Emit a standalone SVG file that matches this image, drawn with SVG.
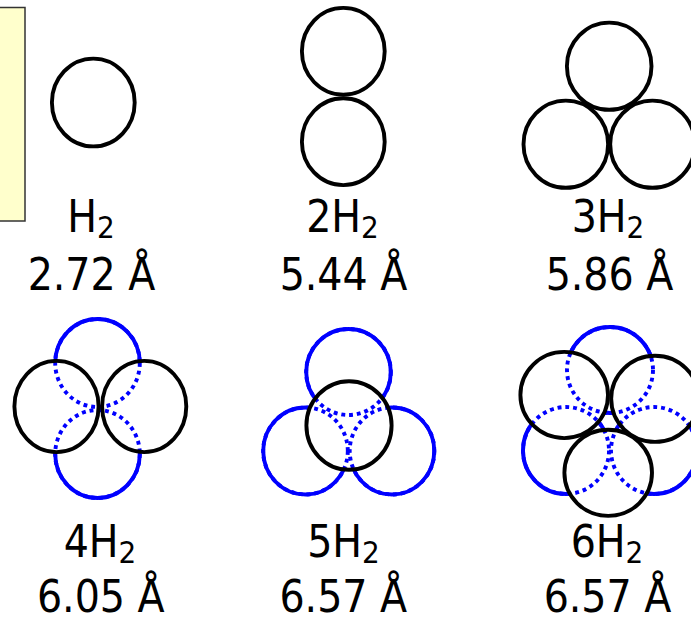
<svg xmlns="http://www.w3.org/2000/svg" width="691" height="622" viewBox="0 0 691 622">
<style>
.k{fill:none;stroke:#000;stroke-width:3.9}
.b{fill:none;stroke:#0000ff;stroke-width:3.9}
.d{fill:none;stroke:#0000ff;stroke-width:3.9;stroke-dasharray:3.9 3.9}
.box{fill:#ffffcc;stroke:#333;stroke-width:1.5}
text{font-family:'DejaVu Sans Condensed','DejaVu Sans',sans-serif;font-stretch:condensed;font-size:44px;fill:#000;text-anchor:middle}
.s{font-size:31px}
</style>
<defs>
<mask id="m4" maskUnits="userSpaceOnUse" x="0" y="300" width="240" height="220">
<rect x="0" y="300" width="240" height="220" fill="#fff"/>
<ellipse cx="56.5" cy="406.5" rx="42.1" ry="45.6" fill="#000"/>
<ellipse cx="144.2" cy="406.5" rx="42.1" ry="45.6" fill="#000"/>
</mask>
<mask id="m5" maskUnits="userSpaceOnUse" x="240" y="300" width="220" height="220">
<rect x="240" y="300" width="220" height="220" fill="#fff"/>
<ellipse cx="349" cy="425.5" rx="42.6" ry="44.3" fill="#000"/>
</mask>
<mask id="m6" maskUnits="userSpaceOnUse" x="500" y="300" width="200" height="230">
<rect x="500" y="300" width="200" height="230" fill="#fff"/>
<ellipse cx="564.2" cy="395" rx="43.8" ry="43.1" fill="#000"/>
<ellipse cx="655" cy="398.8" rx="43.8" ry="43.1" fill="#000"/>
<ellipse cx="608.2" cy="472.8" rx="43.8" ry="43.1" fill="#000"/>
</mask>
</defs>
<g id="legend">
<rect class="box" x="-5" y="7.5" width="30" height="213.5"/>
</g>
<g id="connectors"/>
<g id="h2">
<ellipse class="k" cx="93.3" cy="102.5" rx="41.4" ry="43.9"/>
<text x="91" y="232">H<tspan class="s" dy="6">2</tspan></text>
<text x="91.5" y="290">2.72 Å</text>
</g>
<g id="h2x2">
<ellipse class="k" cx="343.3" cy="51.3" rx="41.4" ry="43.4"/>
<ellipse class="k" cx="343.3" cy="141.7" rx="41.4" ry="43.4"/>
<text x="342.5" y="232">2H<tspan class="s" dy="6">2</tspan></text>
<text x="343.5" y="290">5.44 Å</text>
</g>
<g id="h2x3">
<ellipse class="k" cx="609.2" cy="66.2" rx="42.3" ry="43.6"/>
<ellipse class="k" cx="565.8" cy="144.2" rx="42.3" ry="43.6"/>
<ellipse class="k" cx="652.5" cy="144.2" rx="42.3" ry="43.6"/>
<text x="608" y="232">3H<tspan class="s" dy="6">2</tspan></text>
<text x="609.5" y="290">5.86 Å</text>
</g>
<g id="h2x4">
<ellipse class="d" cx="97.5" cy="363" rx="42.3" ry="44"/>
<ellipse class="d" cx="97.5" cy="454" rx="42.3" ry="44"/>
<g mask="url(#m4)">
<ellipse class="b" cx="97.5" cy="363" rx="42.3" ry="44"/>
<ellipse class="b" cx="97.5" cy="454" rx="42.3" ry="44"/>
</g>
<ellipse class="k" cx="56.5" cy="406.5" rx="42.1" ry="45.6"/>
<ellipse class="k" cx="144.2" cy="406.5" rx="42.1" ry="45.6"/>
<text x="100" y="557">4H<tspan class="s" dy="6">2</tspan></text>
<text x="100.8" y="612">6.05 Å</text>
</g>
<g id="h2x5">
<ellipse class="d" cx="348.5" cy="372" rx="42.3" ry="43"/>
<ellipse class="d" cx="305.5" cy="451" rx="42.3" ry="43.5"/>
<ellipse class="d" cx="392" cy="451" rx="42.3" ry="43.5"/>
<g mask="url(#m5)">
<ellipse class="b" cx="348.5" cy="372" rx="42.3" ry="43"/>
<ellipse class="b" cx="305.5" cy="451" rx="42.3" ry="43.5"/>
<ellipse class="b" cx="392" cy="451" rx="42.3" ry="43.5"/>
</g>
<ellipse class="k" cx="349" cy="425.5" rx="42.6" ry="44.3"/>
<text x="343.5" y="557">5H<tspan class="s" dy="6">2</tspan></text>
<text x="343.3" y="612">6.57 Å</text>
</g>
<g id="h2x6">
<ellipse class="d" cx="610" cy="370" rx="43" ry="43"/>
<ellipse class="d" cx="566" cy="450.5" rx="43" ry="43.5"/>
<ellipse class="d" cx="654" cy="450.5" rx="43" ry="43.5"/>
<g mask="url(#m6)">
<ellipse class="b" cx="610" cy="370" rx="43" ry="43"/>
<ellipse class="b" cx="566" cy="450.5" rx="43" ry="43.5"/>
<ellipse class="b" cx="654" cy="450.5" rx="43" ry="43.5"/>
</g>
<ellipse class="k" cx="564.2" cy="395" rx="43.8" ry="43.1"/>
<ellipse class="k" cx="655" cy="398.8" rx="43.8" ry="43.1"/>
<ellipse class="k" cx="608.2" cy="472.8" rx="43.8" ry="43.1"/>
<text x="607" y="557">6H<tspan class="s" dy="6">2</tspan></text>
<text x="607.5" y="612">6.57 Å</text>
</g>
</svg>
